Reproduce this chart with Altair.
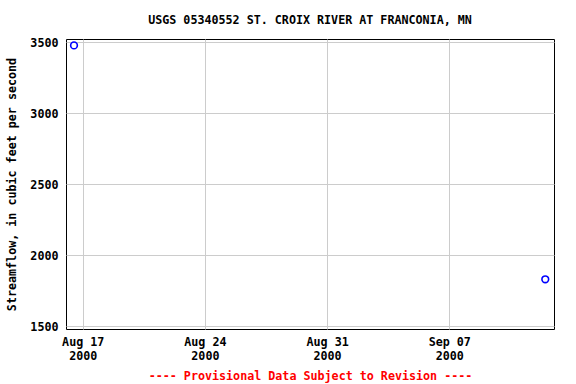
import altair as alt
import pandas as pd

dates = ["2000-08-16T12:00:00Z", "2000-09-12T12:00:00Z"]
flows = [3478, 1831]
tick_dates = [(2000, 8, 17), (2000, 8, 24), (2000, 8, 31), (2000, 9, 7)]
y_ticks = [1500, 2000, 2500, 3000, 3500]

df = pd.DataFrame({"date": dates, "flow": flows})

FONT = "DejaVu Sans Mono"

x = alt.X(
    "date:T",
    scale=alt.Scale(
        type="utc",
        domain=[alt.DateTime(year=2000, month=8, date=16, hours=1, utc=True),
                alt.DateTime(year=2000, month=9, date=13, utc=True)],
    ),
    axis=alt.Axis(
        values=[alt.DateTime(year=y, month=m, date=d, utc=True) for (y, m, d) in tick_dates],
        labelExpr="[utcFormat(datum.value, '%b %d'), utcFormat(datum.value, '%Y')]",
        title="---- Provisional Data Subject to Revision ----",
        titleColor="red",
        titlePadding=9,
        ticks=False,
        labelPadding=7,
        labelLineHeight=14,
    ),
)
y = alt.Y(
    "flow:Q",
    scale=alt.Scale(domain=[1481, 3523], nice=False, zero=False),
    axis=alt.Axis(values=y_ticks, format="d", title="Streamflow, in cubic feet per second",
                  ticks=False, labelPadding=8, titlePadding=12),
)

chart = (
    alt.Chart(df)
    .mark_point(shape="circle", filled=False, color="#0000ff", size=45, strokeWidth=1.6, opacity=1)
    .encode(x=x, y=y)
    .properties(
        width=488,
        height=290,
        autosize=alt.AutoSizeParams(type="none"),
        padding={"left": 66, "top": 39, "right": 22, "bottom": 55},
        title=alt.TitleParams("USGS 05340552 ST. CROIX RIVER AT FRANCONIA, MN",
                              font=FONT, fontSize=11.7, fontWeight="bold", offset=11,
                              anchor="middle", color="black"),
    )
    .configure_view(stroke="black", strokeWidth=1)
    .configure_axis(
        labelFont=FONT, labelFontSize=11.7, labelFontWeight="bold", labelColor="black",
        titleFont=FONT, titleFontSize=11.7, titleFontWeight="bold",
        gridColor="#cccccc", gridWidth=1, domain=False,
    )
)

chart.save("out.html", embed_options={"renderer": "svg", "actions": False})
